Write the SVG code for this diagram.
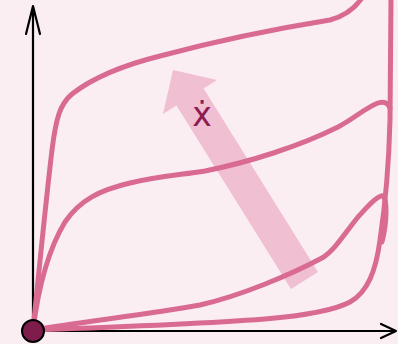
<svg xmlns="http://www.w3.org/2000/svg" width="398" height="344" viewBox="0 0 398 344">
<style>
.curve{fill:none;stroke:#d96b93;stroke-width:5;stroke-linecap:round;stroke-linejoin:round}
.axis{fill:none;stroke:#000;stroke-width:2.2;stroke-linecap:round;stroke-linejoin:round}
</style>
<rect width="398" height="344" fill="#fbeef3"/>
<g id="flow-arrow">
<polygon points="318,272 203.6,88.5 217,80 173,70 163,114 176.4,105.5 291,289" fill="#efbcd0" opacity="0.95"/>
</g>
<g id="label">
<text x="202" y="126" font-family="DejaVu Sans, Liberation Sans, sans-serif" font-size="33" fill="#8b1d52" text-anchor="middle">ẋ</text>
</g>
<g id="axes">
<path class="axis" d="M33,331 L33,6 M26,34 L33,6 L40,34"/>
<path class="axis" d="M33,331 L396,331 M381,324 L396,331 L381,338"/>
</g>
<g id="connectors">
<path class="curve" d="M33,330 C40,260 46,200 52,150 C56,118 60,104 72,94 C90,80 120,66 160,56 C220,40 280,28 330,20 C345,16 355,8 362,-2"/>
<path class="curve" d="M33,330 C38,290 48,250 65,222 C80,200 100,190 130,183 C160,176 180,175 205,171 C250,162 300,146 338,127 C355,118 365,108 378,103 C384,101 388,103 390,108"/>
<path class="curve" d="M33,330 C80,322 150,314 200,305 C240,296 290,275 322,258 C335,250 345,233 358,217 C368,206 375,198 381,196 C385,195 386,202 386,212 C386,224 384,234 382,242"/>
<path class="curve" d="M33,330 C120,327 200,324 265,319 C300,316 335,310 350,302 C368,292 376,270 380,240 C386,200 389,160 390,120 L391,-2"/>
</g>
<g id="origin">
<circle cx="33" cy="331" r="11" fill="#7e1c4b" stroke="#000" stroke-width="2"/>
</g>
</svg>
